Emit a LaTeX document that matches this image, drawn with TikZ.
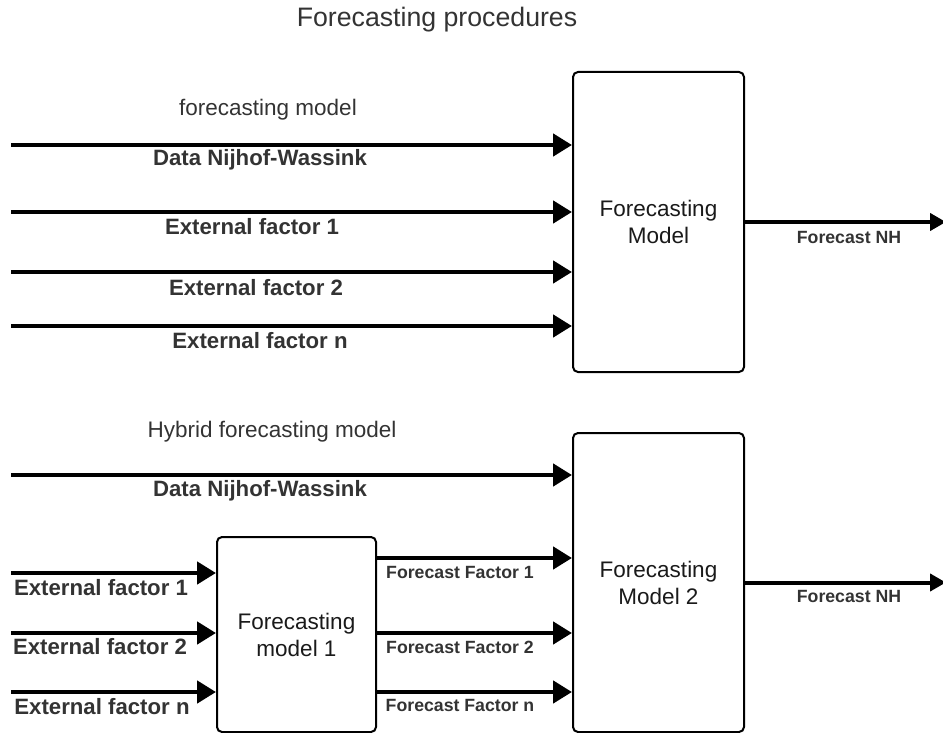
\documentclass[tikz,border=0pt]{standalone}
\usepackage{fontspec}
\setmainfont{Liberation Sans}
\usetikzlibrary{arrows.meta,calc}
\definecolor{txt}{HTML}{333333}
\definecolor{boxtxt}{HTML}{1A1A1A}
\tikzset{
  modelbox/.style={draw=black, line width=2pt, rounded corners=5pt, fill=white, inner sep=0pt, align=center, font=\fontsize{22.5}{27}\selectfont, text=boxtxt},
  inarrow/.style={line width=4.6pt, -{Triangle[length=19pt,width=22pt]}},
  outarrow/.style={line width=4pt, -{Triangle[length=16pt,width=17pt]}},
  biglabel/.style={font=\fontsize{22.2}{26}\selectfont\bfseries, text=txt, inner sep=0pt},
  smalllabel/.style={font=\fontsize{17.7}{21}\selectfont\bfseries, text=txt, inner sep=0pt},
  heading/.style={font=\fontsize{22.5}{27}\selectfont, text=txt, inner sep=0pt}
}
\begin{document}
\begin{tikzpicture}[x=1pt,y=-1pt]
\useasboundingbox (0,0) rectangle (943,733);
% title
\node[heading, font=\fontsize{26.7}{31}\selectfont] (title) at (437,20) {Forecasting procedures};

% ---------- top section ----------
\node[heading] (h1) at (268,110) {forecasting model};
\node[modelbox, minimum width=171pt, minimum height=300pt] (box1) at (658.5,222) {Forecasting\\Model};

\coordinate (a1) at (11,145);
\coordinate (a2) at (11,212);
\coordinate (a3) at (11,272);
\coordinate (a4) at (11,326);
\draw[inarrow] (a1) -- (a1 -| box1.west);
\draw[inarrow] (a2) -- (a2 -| box1.west);
\draw[inarrow] (a3) -- (a3 -| box1.west);
\draw[inarrow] (a4) -- (a4 -| box1.west);
\node[biglabel] (l1) at (260,160) {Data Nijhof-Wassink};
\node[biglabel] (l2) at (252,227) {External factor 1};
\node[biglabel] (l3) at (256,288) {External factor 2};
\node[biglabel] (l4) at (260,341) {External factor n};

\coordinate (o1) at (946,222);
\draw[outarrow] (box1.east) -- (o1);
\node[smalllabel] (nh1) at (849,237) {Forecast NH};

% ---------- bottom section ----------
\node[heading] (h2) at (272,432) {Hybrid forecasting model};
\node[modelbox, minimum width=171pt, minimum height=299pt] (box2) at (658.5,582.5) {Forecasting\\Model 2};
\node[modelbox, minimum width=159pt, minimum height=195pt] (box3) at (296.5,634.5) {Forecasting\\model 1};

\coordinate (d1) at (11,475);
\draw[inarrow] (d1) -- (d1 -| box2.west);
\node[biglabel] (ld) at (260,491) {Data Nijhof-Wassink};

\coordinate (e1) at (11,573);
\coordinate (e2) at (11,633);
\coordinate (e3) at (11,692);
\draw[inarrow] (e1) -- (e1 -| box3.west);
\draw[inarrow] (e2) -- (e2 -| box3.west);
\draw[inarrow] (e3) -- (e3 -| box3.west);
\node[biglabel] (le1) at (101,588) {External factor 1};
\node[biglabel] (le2) at (100,647) {External factor 2};
\node[biglabel] (le3) at (102,707) {External factor n};

\coordinate (f1) at ($(box3.east)+(0,-76.5)$);
\coordinate (f2) at ($(box3.east)+(0,-1.5)$);
\coordinate (f3) at ($(box3.east)+(0,57.5)$);
\draw[inarrow] (f1) -- (f1 -| box2.west);
\draw[inarrow] (f2) -- (f2 -| box2.west);
\draw[inarrow] (f3) -- (f3 -| box2.west);
\node[smalllabel] (lf1) at (460,572) {Forecast Factor 1};
\node[smalllabel] (lf2) at (460,647) {Forecast Factor 2};
\node[smalllabel] (lf3) at (460,705) {Forecast Factor n};

\coordinate (o2) at (946,582.5);
\draw[outarrow] (box2.east) -- (o2);
\node[smalllabel] (nh2) at (849,596) {Forecast NH};
\end{tikzpicture}
\end{document}
